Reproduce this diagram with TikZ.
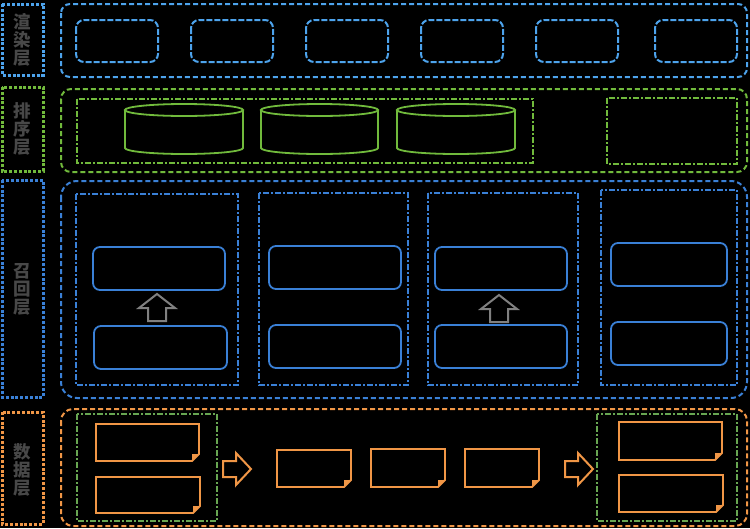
\documentclass[tikz,border=0pt]{standalone}
\usepackage{fontspec}
\usepackage{tikz}
\newfontfamily\cjk{Noto Sans CJK SC}
\definecolor{renderblue}{RGB}{77,163,236}
\definecolor{recallblue}{RGB}{58,128,214}
\definecolor{sortgreen}{RGB}{113,186,60}
\definecolor{dataorange}{RGB}{240,150,70}
\definecolor{datagreen}{RGB}{104,166,82}
\definecolor{arrowgray}{RGB}{128,128,128}
\definecolor{labelgray}{RGB}{72,72,72}
\tikzset{
	labelbox/.style={line width=3pt, dash pattern=on 3pt off 1.8pt},
	labeltext/.style={font=\cjk\bfseries\fontsize{17.5}{18}\selectfont, text=labelgray, align=center, inner sep=0pt},
	outerbox/.style={line width=2pt, dash pattern=on 5pt off 3pt},
	innerbox/.style={line width=1.3pt, dash pattern=on 6pt off 2pt on 2pt off 2pt},
	renderitem/.style={renderblue, line width=2pt, rounded corners=8pt, dash pattern=on 6pt off 2pt},
	recallitem/.style={recallblue, line width=1.8pt, rounded corners=7pt},
	sortline/.style={sortgreen, line width=1.8pt},
	noteline/.style={dataorange, line width=1.8pt},
	hollowgray/.style={arrowgray, line width=2pt},
	hollowright/.style={dataorange, line width=2pt}
}
\def\cyl(#1,#2)(#3,#4){\draw[sortline] (#1,#2+6) -- (#1,#4-6) arc[start angle=180, end angle=0, x radius={(#3-#1)/2}, y radius=6] -- (#3,#2+6);
	\draw[sortline] ({(#1+#3)/2},#2+6) ellipse [x radius={(#3-#1)/2}, y radius=6];}
\def\note(#1,#2)(#3,#4){\draw[noteline] (#1,#2) -- (#3,#2) -- (#3,#4-7) -- (#3-7,#4) -- (#1,#4) -- cycle;
	\fill[dataorange] (#3,#4-7) -- (#3-7,#4-7) -- (#3-7,#4) -- cycle;}
\def\uparr(#1,#2){\draw[hollowgray] (#1,#2) -- (#1+18,#2+14) -- (#1+9,#2+14) -- (#1+9,#2+27) -- (#1-9,#2+27) -- (#1-9,#2+14) -- (#1-18,#2+14) -- cycle;}
\def\rightarr(#1,#2){\draw[hollowright] (#1+28,#2) -- (#1+13,#2-16) -- (#1+13,#2-8) -- (#1,#2-8) -- (#1,#2+8) -- (#1+13,#2+8) -- (#1+13,#2+16) -- cycle;}

\begin{document}
\begin{tikzpicture}[x=1pt,y=-1pt]
	%%%%% START %%%%%
	
	\fill[black] (0,0) rectangle (750,528);
	
	\draw[labelbox, renderblue] (2,4) rectangle (43,75);
	\node[labeltext] (renderlabel) at (22.5,40) {渲\\染\\层};
	\draw[labelbox, sortgreen] (2,87) rectangle (43,171);
	\node[labeltext] (sortlabel) at (22.5,129) {排\\序\\层};
	\draw[labelbox, recallblue] (2,180) rectangle (43,397);
	\node[labeltext] (recalllabel) at (22.5,289) {召\\回\\层};
	\draw[labelbox, dataorange] (2,412) rectangle (43,524);
	\node[labeltext] (datalabel) at (22.5,470) {数\\据\\层};
	
	\draw[outerbox, renderblue, rounded corners=9pt] (61,4) rectangle (747,77);
	\draw[renderitem] (76,20) rectangle (158,62);
	\draw[renderitem] (191,20) rectangle (273,62);
	\draw[renderitem] (306,20) rectangle (388,62);
	\draw[renderitem] (421,20) rectangle (503,62);
	\draw[renderitem] (536,20) rectangle (618,62);
	\draw[renderitem] (655,20) rectangle (737,62);
	
	\draw[outerbox, sortgreen, rounded corners=10pt] (61,89) rectangle (747,172);
	\draw[innerbox, sortgreen] (77,99) rectangle (533,163);
	\cyl(125,104)(243,154)
	\cyl(261,104)(378,154)
	\cyl(397,104)(515,154)
	\draw[innerbox, sortgreen] (607,98) rectangle (737,164);
	
	\draw[outerbox, recallblue, rounded corners=16pt] (61,181) rectangle (747,398);
	\draw[innerbox, recallblue] (76,194) rectangle (238,385);
	\draw[recallitem] (93,247) rectangle (225,290);
	\draw[recallitem] (94,326) rectangle (227,369);
	\uparr(157,294)
	\draw[innerbox, recallblue] (259,193) rectangle (408,385);
	\draw[recallitem] (269,246) rectangle (401,289);
	\draw[recallitem] (269,325) rectangle (401,368);
	\draw[innerbox, recallblue] (428,193) rectangle (578,385);
	\draw[recallitem] (435,247) rectangle (567,290);
	\draw[recallitem] (435,325) rectangle (567,368);
	\uparr(499,295)
	\draw[innerbox, recallblue] (601,190) rectangle (737,385);
	\draw[recallitem] (611,243) rectangle (727,286);
	\draw[recallitem] (611,322) rectangle (727,365);
	
	\draw[outerbox, dataorange, rounded corners=12pt] (61,409) rectangle (747,526);
	\draw[innerbox, datagreen] (77,414) rectangle (217,521);
	\note(96,424)(199,461)
	\note(96,477)(200,513)
	\rightarr(223,469)
	\note(277,450)(351,487)
	\note(371,449)(445,487)
	\note(465,449)(539,487)
	\rightarr(565,469)
	\draw[innerbox, datagreen] (597,414) rectangle (737,521);
	\note(619,422)(722,460)
	\note(619,475)(723,512)
	
	%%%%% END %%%%%
\end{tikzpicture}
\end{document}
